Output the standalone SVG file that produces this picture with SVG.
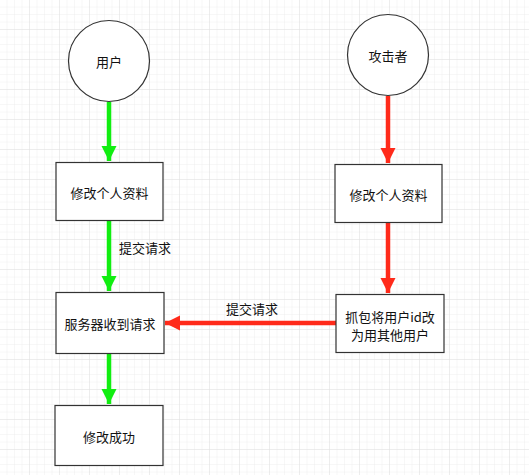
<svg xmlns="http://www.w3.org/2000/svg" width="529" height="475" viewBox="0 0 529 475">
<defs>
<pattern id="minor" width="7.5" height="7.5" patternUnits="userSpaceOnUse">
<path d="M7.5 0V7.5H0" fill="none" stroke="#efefef" stroke-width="1"/>
</pattern>
<pattern id="major" width="30" height="30" patternUnits="userSpaceOnUse">
<rect width="30" height="30" fill="url(#minor)"/>
<path d="M30 0V30H0" fill="none" stroke="#e2e2e2" stroke-width="1"/>
</pattern>
<marker id="ag" viewBox="0 0 10 10" refX="10" refY="5" markerWidth="3.4" markerHeight="3.4" orient="auto" markerUnits="strokeWidth">
<path d="M0 0L10 5L0 10z" fill="#11ee11"/>
</marker>
<marker id="ar" viewBox="0 0 10 10" refX="10" refY="5" markerWidth="3.4" markerHeight="3.4" orient="auto" markerUnits="strokeWidth">
<path d="M0 0L10 5L0 10z" fill="#ff2a1a"/>
</marker>
</defs>
<style>
.n{fill:#fff;stroke:#333;stroke-width:1.2}
.t{font-family:"Noto Sans CJK SC","Liberation Sans",sans-serif;font-size:13px;fill:#111;text-anchor:middle;dominant-baseline:central}
.g{stroke:#11ee11;stroke-width:4.5;fill:none}
.r{stroke:#ff2a1a;stroke-width:4.5;fill:none}
</style>
<rect width="529" height="475" fill="#fff"/>
<rect width="529" height="475" fill="url(#major)"/>
<g id="connectors">
<line class="g" x1="109" y1="102" x2="109" y2="161" marker-end="url(#ag)"/>
<line class="g" x1="109" y1="221" x2="109" y2="291" marker-end="url(#ag)"/>
<line class="g" x1="109" y1="353" x2="109" y2="404" marker-end="url(#ag)"/>
<line class="r" x1="388" y1="96" x2="388" y2="163" marker-end="url(#ar)"/>
<line class="r" x1="388" y1="222" x2="388" y2="293" marker-end="url(#ar)"/>
<line class="r" x1="336" y1="323" x2="165" y2="323" marker-end="url(#ar)"/>
<text class="t" x="145" y="247">提交请求</text>
<text class="t" x="252" y="308">提交请求</text>
</g>
<g id="user">
<circle class="n" cx="109" cy="61" r="40.5"/>
<text class="t" x="109" y="61">用户</text>
</g>
<g id="attacker">
<circle class="n" cx="388" cy="55" r="40.5"/>
<text class="t" x="388" y="55">攻击者</text>
</g>
<g id="edit1">
<rect class="n" x="56" y="162.5" width="107" height="58"/>
<text class="t" x="109.5" y="192">修改个人资料</text>
</g>
<g id="edit2">
<rect class="n" x="335" y="164.5" width="107" height="58"/>
<text class="t" x="388.5" y="194">修改个人资料</text>
</g>
<g id="capture">
<rect class="n" x="336" y="294.5" width="108" height="58"/>
<text class="t" x="390" y="316">抓包将用户id改</text>
<text class="t" x="390" y="334">为用其他用户</text>
</g>
<g id="server">
<rect class="n" x="56" y="292.5" width="108" height="61"/>
<text class="t" x="110" y="323">服务器收到请求</text>
</g>
<g id="success">
<rect class="n" x="55" y="405.5" width="108" height="60"/>
<text class="t" x="109" y="436">修改成功</text>
</g>
</svg>
